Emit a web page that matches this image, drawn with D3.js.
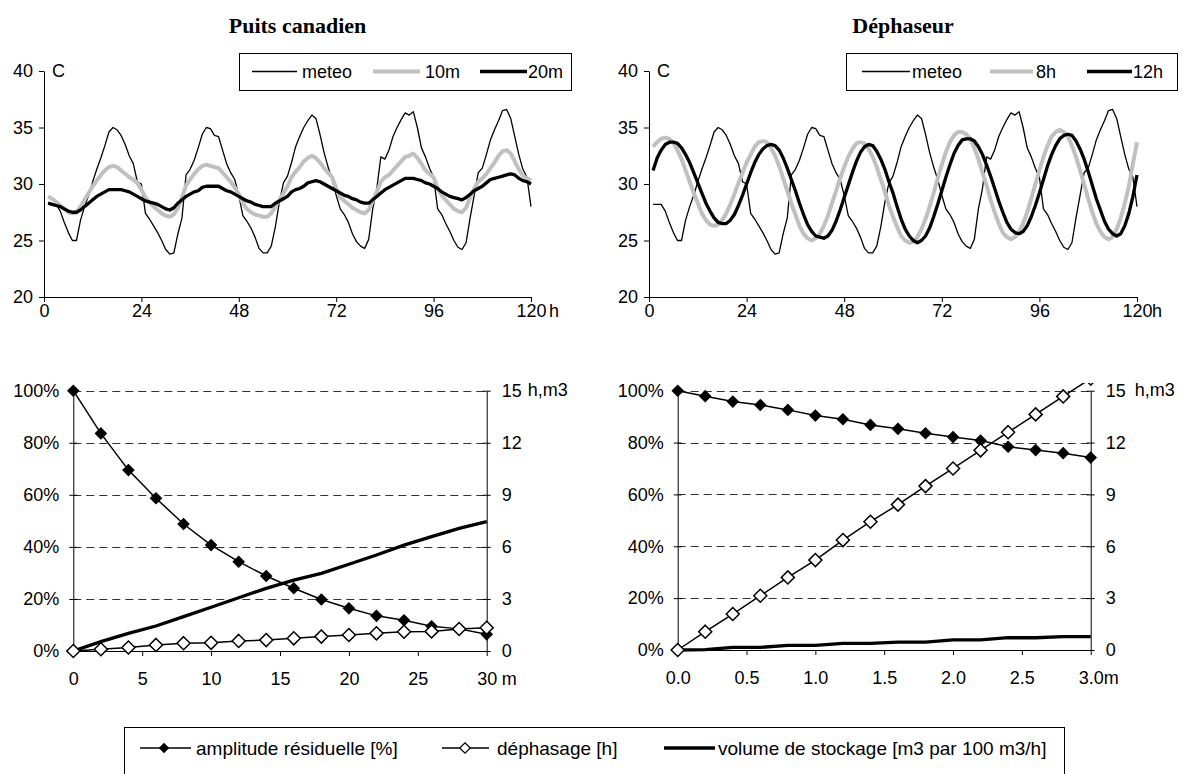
<!DOCTYPE html>
<html><head><meta charset="utf-8">
<script src="https://cdn.jsdelivr.net/npm/d3@7"></script>
<style>
body{margin:0;background:#fff;}
svg text{font-family:"Liberation Sans",Arial,sans-serif;fill:#000;}
</style></head><body>
<svg id="c" width="1183" height="774"></svg>
<script>
// ---- hourly temperatures, hours 1..120 ----
const hours = d3.range(1, 121);
const hourTicks = [0, 24, 48, 72, 96, 120];
const tempTicks = [20, 25, 30, 35, 40];

const meteo = [
 28.2,28.2,28.2,27.6,26.6,25.7,25.0,25.0,26.8,28.0,
 29.0,30.2,31.3,32.3,33.4,34.6,35.0,34.8,34.3,33.5,
 32.5,31.8,30.2,30.0,27.4,26.9,26.3,25.7,25.0,24.2,
 23.8,23.9,25.6,27.0,30.8,31.3,32.1,33.2,34.4,35.0,
 34.9,34.3,34.2,33.0,31.8,31.0,30.4,29.0,27.2,26.7,
 26.1,25.3,24.3,23.9,23.9,24.5,26.2,28.4,30.1,30.7,
 31.9,33.3,34.2,35.0,35.6,36.1,35.8,34.4,32.8,31.5,
 30.4,29.0,27.8,27.3,26.6,25.6,24.9,24.5,24.3,25.1,
 27.8,29.6,32.4,32.2,33.0,34.2,35.0,35.7,36.3,36.1,
 36.4,35.0,33.2,32.4,31.4,30.6,27.8,27.3,26.5,25.8,
 25.0,24.4,24.2,24.8,27.0,29.0,31.0,31.4,32.6,33.9,
 34.8,35.6,36.5,36.6,35.8,34.2,32.6,31.3,30.6,28.0];

const puits10m = [
 28.9,28.7,28.4,28.1,27.8,27.5,27.4,27.5,28.0,28.6,
 29.2,29.8,30.3,30.8,31.2,31.5,31.6,31.5,31.2,30.9,
 30.6,30.4,30.1,29.5,28.8,28.4,28.0,27.7,27.4,27.2,
 27.1,27.3,27.9,28.8,29.9,30.4,30.9,31.3,31.6,31.7,
 31.6,31.5,31.4,31.0,30.6,30.2,29.7,29.1,28.3,27.8,
 27.5,27.3,27.2,27.1,27.1,27.4,28.0,28.6,29.2,29.8,
 30.6,31.1,31.5,32.0,32.3,32.5,32.3,31.9,31.4,31.0,
 30.6,29.6,28.8,28.5,28.2,27.9,27.7,27.5,27.4,27.7,
 28.5,29.3,30.2,30.6,30.8,31.2,31.6,32.0,32.4,32.5,
 32.7,32.3,31.8,31.2,30.9,30.6,29.6,29.0,28.6,28.2,
 27.8,27.6,27.5,27.9,28.8,29.6,30.2,30.5,30.9,31.4,
 31.9,32.5,32.9,33.0,32.7,32.0,31.3,30.7,30.5,30.3];

const puits20m = [
 28.3,28.2,28.1,28.0,27.8,27.6,27.5,27.5,27.7,28.0,
 28.3,28.6,28.9,29.1,29.3,29.5,29.5,29.5,29.5,29.4,
 29.3,29.1,28.9,28.7,28.5,28.4,28.3,28.2,28.0,27.8,
 27.7,27.9,28.3,28.6,28.9,29.1,29.3,29.4,29.7,29.8,
 29.8,29.8,29.8,29.6,29.4,29.3,29.1,28.9,28.7,28.5,
 28.4,28.2,28.1,28.0,28.0,28.0,28.3,28.5,28.7,28.9,
 29.3,29.5,29.6,29.8,30.1,30.2,30.3,30.2,30.0,29.8,
 29.6,29.4,29.2,29.0,28.9,28.7,28.6,28.4,28.3,28.3,
 28.6,28.9,29.2,29.5,29.7,29.9,30.1,30.3,30.5,30.5,
 30.5,30.4,30.3,30.1,30.0,29.8,29.6,29.3,29.1,28.9,
 28.8,28.7,28.6,28.8,29.1,29.4,29.6,29.8,30.1,30.4,
 30.5,30.6,30.7,30.8,30.9,30.8,30.5,30.3,30.2,30.0];

const deph8h = [
 33.3,33.7,34.0,34.1,34.0,33.6,33.0,32.2,31.2,30.2,
 29.2,28.3,27.4,26.8,26.4,26.3,26.4,26.8,27.4,28.2,
 29.1,30.1,31.0,31.9,32.6,33.3,33.7,33.8,33.7,33.2,
 32.5,31.6,30.5,29.4,28.3,27.3,26.3,25.6,25.2,25.0,
 25.2,25.6,26.3,27.2,28.3,29.4,30.5,31.5,32.4,33.1,
 33.6,33.7,33.6,33.1,32.4,31.5,30.4,29.3,28.1,27.1,
 26.2,25.4,25.0,24.8,24.9,25.3,26.0,26.9,28.0,29.2,
 30.5,31.7,32.8,33.7,34.3,34.6,34.6,34.4,34.0,33.2,
 32.2,31.0,29.9,28.6,27.5,26.5,25.7,25.3,25.1,25.3,
 25.8,26.5,27.5,28.7,30.0,31.2,32.4,33.4,34.2,34.6,
 34.8,34.6,34.2,33.4,32.4,31.2,30.0,28.7,27.5,26.5,
 25.8,25.3,25.1,25.3,26.0,27.0,28.3,29.8,31.8,33.7];

const deph12h = [
 31.2,32.3,33.0,33.5,33.7,33.7,33.6,33.2,32.6,31.9,
 31.0,30.1,29.2,28.3,27.6,27.0,26.6,26.5,26.5,26.8,
 27.3,28.1,29.0,30.0,31.0,31.9,32.6,33.1,33.4,33.5,
 33.4,33.0,32.3,31.4,30.4,29.4,28.3,27.3,26.4,25.8,
 25.4,25.3,25.2,25.4,25.9,26.7,27.7,28.8,29.9,31.0,
 32.0,32.8,33.3,33.5,33.4,32.9,32.2,31.3,30.2,29.2,
 28.0,26.9,26.0,25.4,25.0,24.8,25.0,25.4,26.1,27.1,
 28.2,29.4,30.6,31.7,32.7,33.4,33.9,34.0,34.0,33.8,
 33.3,32.6,31.7,30.7,29.6,28.5,27.5,26.6,26.0,25.7,
 25.6,25.8,26.3,27.1,28.1,29.2,30.4,31.6,32.6,33.4,
 34.0,34.3,34.4,34.3,33.8,33.1,32.2,31.1,29.9,28.7,
 27.7,26.7,26.0,25.6,25.4,25.6,26.3,27.4,28.9,30.8];

// ---- parametric studies ----
const distPuits  = [0,2,4,6,8,10,12,14,16,18,20,22,24,26,28,30];
const amplPuits  = [100,83.6,69.5,58.7,48.8,40.7,34.3,28.8,24.1,19.8,16.4,13.5,11.8,9.5,8.5,6.4];
const phasePuits = [0,0.1,0.2,0.35,0.45,0.47,0.58,0.63,0.73,0.83,0.92,1.02,1.11,1.13,1.27,1.34];
const volPuits   = [0,0.54,1.02,1.44,1.98,2.52,3.07,3.61,4.08,4.47,5.0,5.53,6.1,6.59,7.07,7.45];
const distTicksPuits = [0,5,10,15,20,25,30];

const distDeph  = [0,0.2,0.4,0.6,0.8,1.0,1.2,1.4,1.6,1.8,2.0,2.2,2.4,2.6,2.8,3.0];
const amplDeph  = [100,97.9,95.8,94.5,92.6,90.4,89.0,86.8,85.3,83.6,82.1,80.8,78.4,77.1,75.9,74.2];
const phaseDeph = [0,1.06,2.08,3.14,4.2,5.2,6.36,7.42,8.41,9.48,10.5,11.55,12.6,13.63,14.67,15.7];
const volDeph   = [0,0.02,0.15,0.15,0.27,0.27,0.38,0.38,0.45,0.45,0.58,0.58,0.71,0.71,0.77,0.77];
const distTicksDeph = [0,0.5,1.0,1.5,2.0,2.5,3.0];

const pctTicks = [0,20,40,60,80,100];
const rightTicks = [0,3,6,9,12,15];

const svg = d3.select("#c");
const FS = 18;

function styleAxis(sel) {
  sel.attr("font-family", null).attr("font-size", null);
  sel.selectAll("text").style("font-size", FS + "px");
  sel.selectAll("path, line").attr("stroke", "#000");
}

// square-on-point marker
const diamond = {
  draw(ctx, size) {
    const r = Math.sqrt(size) / 2;
    ctx.moveTo(0, -r); ctx.lineTo(r, 0); ctx.lineTo(0, r); ctx.lineTo(-r, 0); ctx.closePath();
  }
};

// ---------- temperature panels ----------
function drawTemp(o) {
  const g = svg.append("g");
  const x = d3.scaleLinear().domain([0, 120]).range([o.x0, o.x1]);
  const y = d3.scaleLinear().domain([20, 40]).range([297, 71]);

  g.append("text").attr("x", (o.x0 + o.x1) / 2 + o.titleDx).attr("y", 33)
    .attr("text-anchor", "middle")
    .style("font-family", '"Liberation Serif","Times New Roman",serif')
    .style("font-weight", "bold").style("font-size", "22px").text(o.title);

  g.append("g").attr("transform", `translate(${o.x0},0)`)
    .call(d3.axisLeft(y).tickValues(tempTicks).tickSize(5).tickSizeOuter(0).tickPadding(6))
    .call(styleAxis);
  g.append("g").attr("transform", "translate(0,297)")
    .call(d3.axisBottom(x).tickValues(hourTicks).tickSize(5).tickSizeOuter(0).tickPadding(2))
    .call(styleAxis);

  g.append("text").attr("x", x(120) + o.hDx).attr("y", 297 + 5 + 2 + 0.71 * FS)
    .style("font-size", FS + "px").text("h");
  g.append("text").attr("x", o.x0 + 8).attr("y", 77).style("font-size", FS + "px").text("C");

  const line = d3.line().x((d, i) => x(hours[i])).y(d => y(d));
  o.series.forEach(s => {
    g.append("path").datum(s.values).attr("d", line).attr("fill", "none")
      .attr("stroke", s.color).attr("stroke-width", s.width).attr("stroke-linejoin", "round");
  });

  // legend
  const lg = g.append("g");
  lg.append("rect").attr("x", o.lx).attr("y", 53.5).attr("width", o.lw).attr("height", 37)
    .attr("fill", "#fff").attr("stroke", "#000").attr("stroke-width", 1);
  o.series.forEach((s, i) => {
    const it = o.legendItems[i];
    lg.append("line").attr("x1", it[0]).attr("x2", it[1]).attr("y1", 71.5).attr("y2", 71.5)
      .attr("stroke", s.color).attr("stroke-width", s.width);
    lg.append("text").attr("x", it[2]).attr("y", 78).style("font-size", FS + "px").text(s.name);
  });
}

drawTemp({
  x0: 44, x1: 531, title: "Puits canadien", titleDx: 10, hDx: 18,
  lx: 239.5, lw: 332,
  legendItems: [[252, 297, 302], [373, 420, 425], [480, 527, 528]],
  series: [
    { name: "meteo", values: meteo, color: "#000", width: 1.3 },
    { name: "10m", values: puits10m, color: "#c0c0c0", width: 4 },
    { name: "20m", values: puits20m, color: "#000", width: 3.3 }
  ]
});
drawTemp({
  x0: 649, x1: 1137, title: "Déphaseur", titleDx: 10, hDx: 15,
  lx: 846.5, lw: 331,
  legendItems: [[862, 910, 912], [990, 1033, 1036], [1087, 1132, 1133]],
  series: [
    { name: "meteo", values: meteo, color: "#000", width: 1.3 },
    { name: "8h", values: deph8h, color: "#c0c0c0", width: 4 },
    { name: "12h", values: deph12h, color: "#000", width: 3.3 }
  ]
});

// ---------- parametric panels ----------
function drawParam(o) {
  const g = svg.append("g");
  const x = d3.scaleLinear().domain(o.xDomain).range([o.x0, o.x1]);
  const yL = d3.scaleLinear().domain([0, 100]).range([o.yb, 390.7]);
  const yR = d3.scaleLinear().domain([0, 15]).range([o.yb, 390.7]);
  const clipId = "clip" + o.id;
  g.append("clipPath").attr("id", clipId).append("rect")
    .attr("x", o.x0 - 10).attr("y", 383).attr("width", o.x1 - o.x0 + 20).attr("height", o.yb - 383 + 12);

  // dashed grid
  g.append("g").selectAll("line").data(pctTicks.filter(d => d > 0)).join("line")
    .attr("x1", o.x0).attr("x2", o.x1)
    .attr("y1", d => Math.round(yL(d)) + 0.5).attr("y2", d => Math.round(yL(d)) + 0.5)
    .attr("stroke", "#333").attr("stroke-width", 1).attr("stroke-dasharray", "8,5");

  const la = g.append("g").attr("transform", `translate(${o.x0},0)`)
    .call(d3.axisLeft(yL).tickValues(pctTicks).tickFormat(d => d + "%").tickSize(4).tickSizeOuter(0).tickPadding(10))
    .call(styleAxis);
  la.selectAll(".tick line").attr("x2", 4).attr("x1", -4);
  const ra = g.append("g").attr("transform", `translate(${o.x1},0)`)
    .call(d3.axisRight(yR).tickValues(rightTicks).tickSize(4).tickSizeOuter(0).tickPadding(11))
    .call(styleAxis);
  ra.selectAll(".tick line").attr("x1", -4).attr("x2", 4);
  g.append("text").attr("x", o.x1 + o.unitDx).attr("y", yR(15) + 0.32 * FS)
    .style("font-size", FS + "px").text("h,m3");

  g.append("g").attr("transform", `translate(0,${o.yb})`)
    .call(d3.axisBottom(x).tickValues(o.xTicks).tickFormat(o.xFmt).tickSize(5).tickSizeOuter(0).tickPadding(16))
    .call(styleAxis);
  g.append("text").attr("x", x(o.xDomain[1]) + o.mDx).attr("y", o.yb + 5 + 16 + 0.71 * FS)
    .style("font-size", FS + "px").text("m");

  const plot = g.append("g").attr("clip-path", `url(#${clipId})`);
  const lineL = d3.line().x((d, i) => x(o.dist[i])).y(d => yL(d));
  const lineR = d3.line().x((d, i) => x(o.dist[i])).y(d => yR(d));

  plot.append("path").datum(o.ampl).attr("d", lineL).attr("fill", "none").attr("stroke", "#000").attr("stroke-width", 1.5);
  plot.append("path").datum(o.phase).attr("d", lineR).attr("fill", "none").attr("stroke", "#000").attr("stroke-width", 1.5);
  plot.append("path").datum(o.vol).attr("d", lineR).attr("fill", "none").attr("stroke", "#000").attr("stroke-width", 3.3);

  const filled = d3.symbol(diamond, 160);
  const open = d3.symbol(diamond, 170);
  plot.selectAll(".amp").data(o.ampl).join("path").attr("class", "amp")
    .attr("transform", (d, i) => `translate(${x(o.dist[i])},${yL(d)})`)
    .attr("d", filled).attr("fill", "#000");
  plot.selectAll(".ph").data(o.phase).join("path").attr("class", "ph")
    .attr("transform", (d, i) => `translate(${x(o.dist[i])},${yR(d)})`)
    .attr("d", open).attr("fill", "#fff").attr("stroke", "#000").attr("stroke-width", 1.5);
}

drawParam({
  id: "p", x0: 73.3, x1: 486.7, yb: 651, xDomain: [0, 30], xTicks: distTicksPuits,
  xFmt: d => String(d), unitDx: 41, mDx: 15,
  dist: distPuits, ampl: amplPuits, phase: phasePuits, vol: volPuits
});
drawParam({
  id: "d", x0: 677.7, x1: 1090.7, yb: 650, xDomain: [0, 3], xTicks: distTicksDeph,
  xFmt: d3.format(".1f"), unitDx: 44, mDx: 13,
  dist: distDeph, ampl: amplDeph, phase: phaseDeph, vol: volDeph
});

// ---------- shared legend ----------
const LFS = 19;
const leg = svg.append("g");
leg.append("rect").attr("x", 124.5).attr("y", 727.5).attr("width", 940).attr("height", 60)
  .attr("fill", "#fff").attr("stroke", "#000");
const ly = 748;
leg.append("line").attr("x1", 140).attr("x2", 191).attr("y1", ly).attr("y2", ly).attr("stroke", "#000").attr("stroke-width", 1.5);
leg.append("path").attr("transform", `translate(164,${ly})`).attr("d", d3.symbol(diamond, 110)).attr("fill", "#000");
leg.append("text").attr("x", 196).attr("y", ly + 7).style("font-size", LFS + "px").text("amplitude résiduelle [%]");
leg.append("line").attr("x1", 442).attr("x2", 489).attr("y1", ly).attr("y2", ly).attr("stroke", "#000").attr("stroke-width", 1.5);
leg.append("path").attr("transform", `translate(465,${ly})`).attr("d", d3.symbol(diamond, 110)).attr("fill", "#fff").attr("stroke", "#000").attr("stroke-width", 1.2);
leg.append("text").attr("x", 497).attr("y", ly + 7).style("font-size", LFS + "px").text("déphasage [h]");
leg.append("line").attr("x1", 664).attr("x2", 715).attr("y1", ly).attr("y2", ly).attr("stroke", "#000").attr("stroke-width", 3.3);
leg.append("text").attr("x", 718).attr("y", ly + 7).style("font-size", LFS + "px").text("volume de stockage [m3 par 100 m3/h]");
</script>
</body></html>
